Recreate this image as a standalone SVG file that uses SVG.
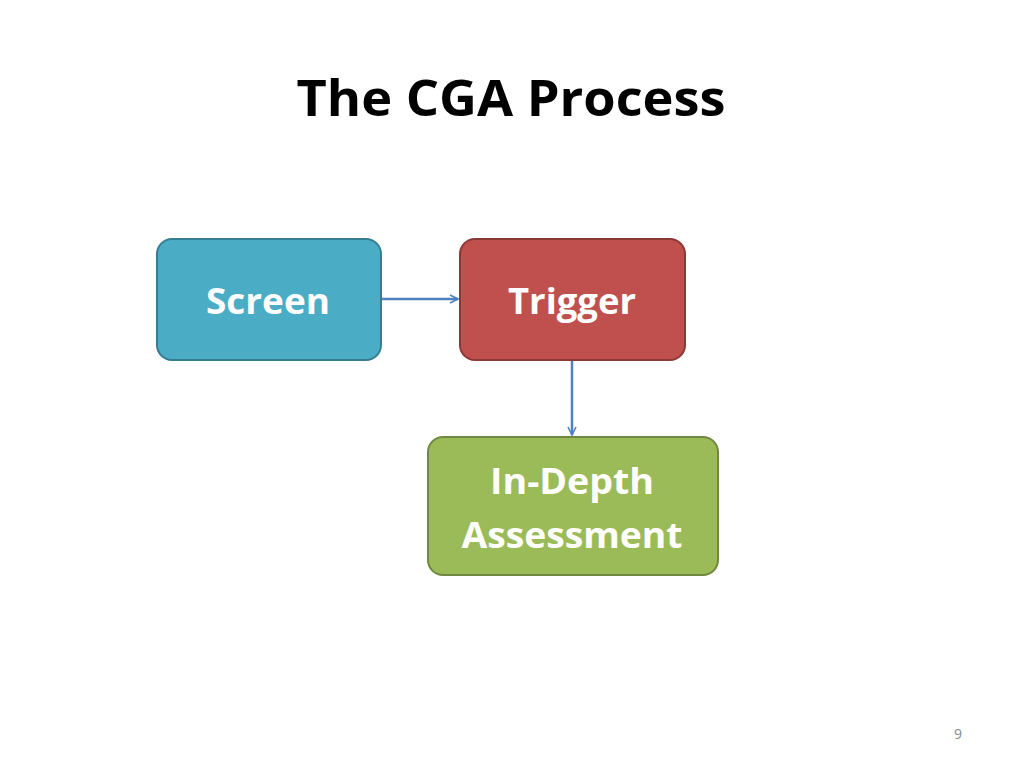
<svg xmlns="http://www.w3.org/2000/svg" width="1024" height="768" viewBox="0 0 1024 768">
<defs>
<style>
.t{font-family:"Open Sans","Liberation Sans",sans-serif;font-weight:bold;text-anchor:middle}
.lbl{fill:#fff;font-size:36px}
.conn{stroke:#4F81BD;stroke-width:2.5;fill:none}
</style>
<marker id="ah" viewBox="0 0 10 10" refX="9" refY="5" markerWidth="4" markerHeight="4" orient="auto" markerUnits="strokeWidth">
<path d="M1,1 L9,5 L1,9" fill="none" stroke="#4F81BD" stroke-width="1.6"/>
</marker>
</defs>
<rect width="1024" height="768" fill="#fff"/>
<text class="t" x="511" y="116" font-size="50" fill="#000" textLength="429" lengthAdjust="spacingAndGlyphs">The CGA Process</text>
<g id="connectors">
<line class="conn" x1="381" y1="299" x2="458" y2="299" marker-end="url(#ah)"/>
<line class="conn" x1="572" y1="360" x2="572" y2="435" marker-end="url(#ah)"/>
</g>
<g id="screen">
<rect x="157" y="239" width="224" height="121" rx="15" fill="#4BACC6" stroke="#357D91" stroke-width="2"/>
<text class="t lbl" x="268" y="314" textLength="124" lengthAdjust="spacingAndGlyphs">Screen</text>
</g>
<g id="trigger">
<rect x="460" y="239" width="225" height="121" rx="15" fill="#C0504D" stroke="#8C3836" stroke-width="2"/>
<text class="t lbl" x="572" y="314" textLength="128" lengthAdjust="spacingAndGlyphs">Trigger</text>
</g>
<g id="assessment">
<rect x="428" y="437" width="290" height="138" rx="15" fill="#9BBB59" stroke="#71893F" stroke-width="2"/>
<text class="t lbl" x="572" y="494" textLength="164" lengthAdjust="spacingAndGlyphs">In-Depth</text>
<text class="t lbl" x="572" y="548" textLength="221" lengthAdjust="spacingAndGlyphs">Assessment</text>
</g>
<text x="958" y="739" font-family="'Open Sans','Liberation Sans',sans-serif" font-size="14" fill="#888" text-anchor="middle">9</text>
</svg>
